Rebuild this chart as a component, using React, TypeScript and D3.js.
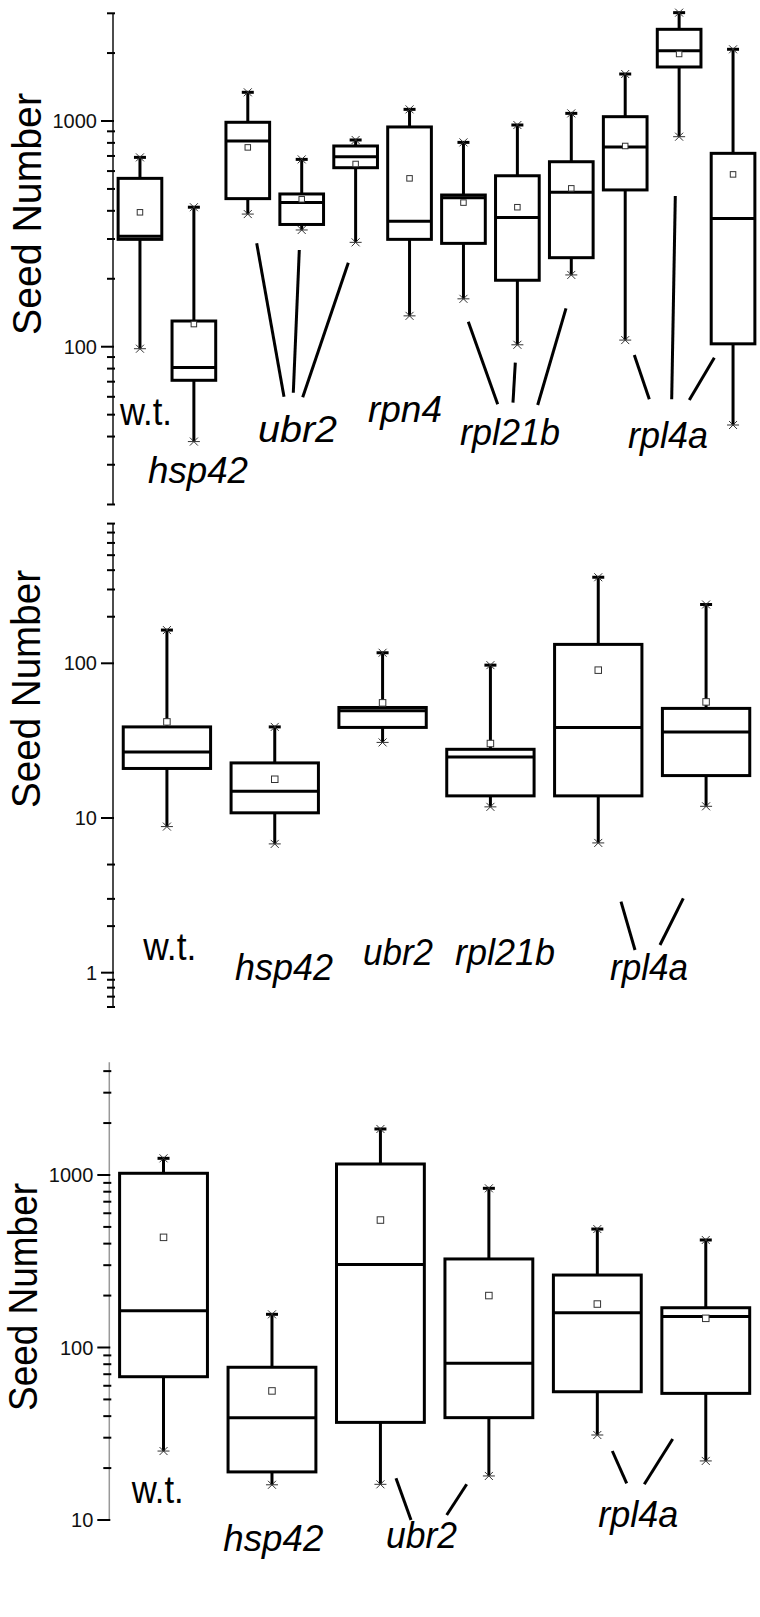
import React from 'react';
import * as d3 from 'd3';

// ---------- DATA ----------
// Panel 1
const p1Categories = ['wt', 'hsp42', 'ubr2-1', 'ubr2-2', 'ubr2-3', 'rpn4', 'rpl21b-1', 'rpl21b-2', 'rpl21b-3', 'rpl4a-1', 'rpl4a-2', 'rpl4a-3'];
const p1Min = [98, 38, 387, 329, 290, 137, 163, 102, 208, 107, 852, 45];
const p1Q1 = [299, 71, 453, 348, 621, 299, 287, 197, 248, 495, 1735, 103];
const p1Median = [309, 81, 815, 435, 695, 360, 457, 374, 483, 767, 2049, 370];
const p1Q3 = [557, 130, 987, 475, 775, 941, 470, 572, 660, 1045, 2548, 719];
const p1Max = [690, 415, 1340, 676, 824, 1126, 804, 960, 1081, 1615, 3020, 2078];
const p1Mean = [394, 126, 764, 450, 645, 557, 435, 415, 503, 775, 1981, 580];
const p1MajorTicks = [100, 1000];
const p1MinorTicks = [20, 30, 40, 50, 60, 70, 80, 90, 200, 300, 400, 500, 600, 700, 800, 900, 2000, 3000];

// Panel 2
const p2Categories = ['wt', 'hsp42', 'ubr2', 'rpl21b', 'rpl4a-1', 'rpl4a-2'];
const p2Min = [8.8, 6.8, 30.8, 11.8, 6.9, 11.9];
const p2Q1 = [20.9, 10.8, 38.5, 13.9, 13.9, 18.8];
const p2Median = [26.7, 14.9, 49.3, 24.8, 38.5, 35.9];
const p2Q3 = [38.8, 22.7, 51.8, 27.8, 132.5, 51.1];
const p2Max = [164, 38.8, 117, 97.3, 360, 240];
const p2Mean = [41.8, 17.8, 55.5, 30.3, 90.3, 56.3];
const p2MajorTicks = [1, 10, 100];
const p2MinorTicks = [0.6, 0.7, 0.8, 0.9, 2, 3, 5, 200, 300, 400, 500, 600, 700, 800];

// Panel 3
const p3Categories = ['wt', 'hsp42', 'ubr2-1', 'ubr2-2', 'rpl4a-1', 'rpl4a-2'];
const p3Min = [25.1, 16, 16.1, 18, 31.1, 22];
const p3Q1 = [67.7, 19, 36.8, 39.2, 55.4, 54.2];
const p3Median = [163.5, 39.2, 303, 81, 159, 151];
const p3Q3 = [1023, 76.8, 1158, 326, 263, 170];
const p3Max = [1249, 155.7, 1848, 837, 486, 420];
const p3Mean = [435, 56, 548, 200, 178.6, 147.6];
const p3MajorTicks = [10, 100, 1000];
const p3MinorTicks = [20, 30, 40, 50, 60, 70, 80, 90, 200, 300, 400, 500, 600, 700, 800, 900, 2000, 3000, 4000];

const yTitle = 'Seed Number';
const p1LabelTexts = ['w.t.', 'hsp42', 'ubr2', 'rpn4', 'rpl21b', 'rpl4a'];
const p2LabelTexts = ['w.t.', 'hsp42', 'ubr2', 'rpl21b', 'rpl4a'];
const p3LabelTexts = ['w.t.', 'hsp42', 'ubr2', 'rpl4a'];

// ---------- LAYOUT ----------
const FONT = '"Liberation Sans", Arial, Helvetica, sans-serif';

type Lbl = { x: number; y: number; w: number; fs: number; italic: boolean };
type Seg = [number, number, number, number];

const panels = [
  {
    cats: p1Categories, mins: p1Min, q1: p1Q1, med: p1Median, q3: p1Q3, maxs: p1Max, means: p1Mean,
    major: p1MajorTicks, minor: p1MinorTicks,
    yDomain: [20, 3000], yRange: [504.5, 13.3], axisX: 113, axisColor: '#111',
    meanSize: 5.5,
    title: { x: 41, y: 214, len: 242 },
    texts: p1LabelTexts,
    labels: [
      { x: 120, y: 425, w: 52, fs: 38, italic: false },
      { x: 148, y: 483, w: 100, fs: 37, italic: true },
      { x: 258, y: 442, w: 79, fs: 37, italic: true },
      { x: 368, y: 422, w: 74, fs: 37, italic: true },
      { x: 460, y: 445, w: 100, fs: 37, italic: true },
      { x: 628, y: 448, w: 80, fs: 37, italic: true },
    ] as Lbl[],
    segs: [
      [256.7, 243.3, 284, 396.7], [299.3, 250, 293.3, 392.7], [348.3, 262.7, 302.7, 397.3],
      [468.3, 321.7, 497.7, 404.3], [515.3, 362.7, 513, 402.7], [566, 308.3, 537.7, 405],
      [634.3, 355, 649.3, 399.3], [675.3, 196, 671.7, 399.3], [714.3, 357.7, 689.3, 400],
    ] as Seg[],
  },
  {
    cats: p2Categories, mins: p2Min, q1: p2Q1, med: p2Median, q3: p2Q3, maxs: p2Max, means: p2Mean,
    major: p2MajorTicks, minor: p2MinorTicks,
    yDomain: [0.6, 800], yRange: [1007, 523.6], axisX: 113, axisColor: '#111',
    meanSize: 6.5,
    title: { x: 40, y: 689, len: 238 },
    texts: p2LabelTexts,
    labels: [
      { x: 143.3, y: 960, w: 53, fs: 38, italic: false },
      { x: 235, y: 980, w: 98, fs: 37, italic: true },
      { x: 363, y: 965, w: 70, fs: 37, italic: true },
      { x: 455, y: 965, w: 100, fs: 37, italic: true },
      { x: 610, y: 980, w: 78, fs: 37, italic: true },
    ] as Lbl[],
    segs: [
      [621, 901.7, 635, 950], [683.3, 898.3, 660, 945],
    ] as Seg[],
  },
  {
    cats: p3Categories, mins: p3Min, q1: p3Q1, med: p3Median, q3: p3Q3, maxs: p3Max, means: p3Mean,
    major: p3MajorTicks, minor: p3MinorTicks,
    yDomain: [10, 4500], yRange: [1520, 1062.3], axisX: 109.3, axisColor: '#999',
    meanSize: 6.5,
    title: { x: 37, y: 1297, len: 228 },
    texts: p3LabelTexts,
    labels: [
      { x: 131.7, y: 1503, w: 52, fs: 38, italic: false },
      { x: 223.3, y: 1551, w: 100, fs: 37, italic: true },
      { x: 386, y: 1548, w: 71, fs: 37, italic: true },
      { x: 598.3, y: 1527, w: 80, fs: 37, italic: true },
    ] as Lbl[],
    segs: [
      [396, 1478.3, 411, 1520], [466.7, 1484.3, 446.7, 1515],
      [612.3, 1451, 626.7, 1483.3], [672.7, 1439, 644.3, 1484.3],
    ] as Seg[],
  },
];

function Panel({ p }: { p: (typeof panels)[number] }) {
  const y = d3.scaleLog().domain(p.yDomain).range(p.yRange);
  const x = d3.scaleBand<string>().domain(p.cats).range([p.axisX, 760]).paddingInner(0.19).paddingOuter(0.095);
  const bw = x.bandwidth();
  const fmt = d3.format('d');
  return (
    <g>
      {/* axis */}
      <line x1={p.axisX} x2={p.axisX} y1={y(p.yDomain[0])} y2={y(p.yDomain[1])} stroke={p.axisColor} strokeWidth={1.5} />
      {p.major.map((t) => (
        <g key={'M' + t}>
          <line x1={p.axisX - 12} x2={p.axisX + 1} y1={y(t)} y2={y(t)} stroke="#000" strokeWidth={2} />
          <text x={p.axisX - 16} y={y(t)} dy="0.36em" textAnchor="end" fontSize={20} fontFamily={FONT} fill="#111">
            {fmt(t)}
          </text>
        </g>
      ))}
      {p.minor.map((t) => (
        <line key={'m' + t} x1={p.axisX - 6} x2={p.axisX + 2} y1={y(t)} y2={y(t)} stroke="#000" strokeWidth={2} />
      ))}
      {/* title */}
      <text
        transform={`translate(${p.title.x},${p.title.y}) rotate(-90)`}
        textAnchor="middle"
        fontSize={41}
        fontFamily={FONT}
        textLength={p.title.len}
        lengthAdjust="spacingAndGlyphs"
        fill="#000"
      >
        {yTitle}
      </text>
      {/* boxes */}
      {p.cats.map((c, i) => {
        const x0 = x(c)!;
        const cx = x0 + bw / 2;
        const yMax = y(p.maxs[i]);
        const yMin = y(p.mins[i]);
        const yQ1 = y(p.q1[i]);
        const yQ3 = y(p.q3[i]);
        const yMed = y(p.med[i]);
        const yMean = y(p.means[i]);
        const ms = p.meanSize;
        return (
          <g key={c}>
            <line x1={cx} x2={cx} y1={yMax} y2={yQ3} stroke="#000" strokeWidth={3} />
            <line x1={cx} x2={cx} y1={yQ1} y2={yMin} stroke="#000" strokeWidth={3} />
            <rect x={x0} y={yQ3} width={bw} height={yQ1 - yQ3} fill="#fff" stroke="#000" strokeWidth={3} />
            <line x1={x0} x2={x0 + bw} y1={yMed} y2={yMed} stroke="#000" strokeWidth={3} />
            <rect x={cx - ms / 2} y={yMean - ms / 2} width={ms} height={ms} fill="#fff" stroke="#333" strokeWidth={1} />
            {/* max marker */}
            <line x1={cx - 6} x2={cx + 6} y1={yMax} y2={yMax} stroke="#000" strokeWidth={3} />
            <path d={`M${cx - 4},${yMax - 4}L${cx + 4},${yMax + 4}M${cx - 4},${yMax + 4}L${cx + 4},${yMax - 4}`} stroke="#333" strokeWidth={1} />
            {/* min marker */}
            <line x1={cx - 6} x2={cx + 6} y1={yMin} y2={yMin} stroke="#333" strokeWidth={1} />
            <path d={`M${cx - 4},${yMin - 4}L${cx + 4},${yMin + 4}M${cx - 4},${yMin + 4}L${cx + 4},${yMin - 4}`} stroke="#333" strokeWidth={1} />
          </g>
        );
      })}
      {/* connector lines */}
      {p.segs.map((s, i) => (
        <line key={'s' + i} x1={s[0]} y1={s[1]} x2={s[2]} y2={s[3]} stroke="#000" strokeWidth={3} />
      ))}
      {/* category labels */}
      {p.labels.map((l, i) => (
        <text
          key={'l' + i}
          x={l.x}
          y={l.y}
          fontSize={l.fs}
          fontStyle={l.italic ? 'italic' : 'normal'}
          fontFamily={FONT}
          textLength={l.w}
          lengthAdjust="spacingAndGlyphs"
          fill="#000"
        >
          {p.texts[i]}
        </text>
      ))}
    </g>
  );
}

export default function App() {
  return (
    <svg
      width={760}
      height={1617}
      viewBox="0 0 760 1617"
      style={{ position: 'absolute', left: 0, top: 0, background: '#fff' }}
    >
      <rect x={0} y={0} width={760} height={1617} fill="#fff" />
      {panels.map((p, i) => (
        <Panel key={i} p={p} />
      ))}
    </svg>
  );
}
